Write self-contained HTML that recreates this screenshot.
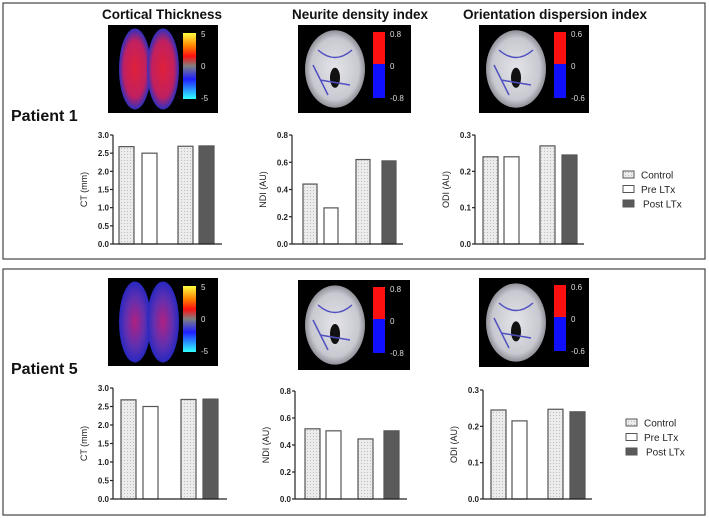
<!DOCTYPE html>
<html><head><meta charset="utf-8"><style>
body{margin:0;background:#fff;}
svg{display:block;font-family:"Liberation Sans",Arial,sans-serif;}
</style></head><body>
<svg id="fig" width="709" height="518" viewBox="0 0 709 518" xmlns="http://www.w3.org/2000/svg">
<defs>
<pattern id="dots" width="3" height="3" patternUnits="userSpaceOnUse"><rect width="3" height="3" fill="#ececec"/><rect x="1" y="1" width="1" height="1" fill="#bdbdbd"/></pattern>
<linearGradient id="ctbar" x1="0" y1="0" x2="0" y2="1"><stop offset="0" stop-color="#ffff40"/><stop offset="0.2" stop-color="#ff8000"/><stop offset="0.35" stop-color="#ff1010"/><stop offset="0.5" stop-color="#808080"/><stop offset="0.7" stop-color="#2020ff"/><stop offset="1" stop-color="#30ffff"/></linearGradient>
<radialGradient id="ctbrain1"><stop offset="0" stop-color="#e0203a"/><stop offset="0.7" stop-color="#c02060"/><stop offset="1" stop-color="#3030c0"/></radialGradient>
<radialGradient id="ctbrain2"><stop offset="0" stop-color="#b02080"/><stop offset="0.6" stop-color="#6030b0"/><stop offset="1" stop-color="#2828c0"/></radialGradient>
<radialGradient id="mri"><stop offset="0" stop-color="#e4e4ea"/><stop offset="0.8" stop-color="#c8c8d0"/><stop offset="1" stop-color="#909098"/></radialGradient>
</defs>
<rect x="3" y="3" width="702" height="256" fill="none" stroke="#444" stroke-width="1.2"/>
<rect x="3" y="269" width="702" height="246" fill="none" stroke="#444" stroke-width="1.2"/>
<text x="102" y="19" font-size="14" font-weight="bold" textLength="120" lengthAdjust="spacingAndGlyphs" fill="#111">Cortical Thickness</text>
<text x="292" y="19" font-size="14" font-weight="bold" textLength="136" lengthAdjust="spacingAndGlyphs" fill="#111">Neurite density index</text>
<text x="463" y="19" font-size="14" font-weight="bold" textLength="184" lengthAdjust="spacingAndGlyphs" fill="#111">Orientation dispersion index</text>
<text x="11" y="121" font-size="16" font-weight="bold" fill="#111">Patient 1</text>
<text x="11" y="374" font-size="16" font-weight="bold" fill="#111">Patient 5</text>
<g id="images"></g>
<g id="charts"></g>
</svg>
<script>
const NS="http://www.w3.org/2000/svg";
const categories=["Control","Pre LTx","Control","Post LTx"];
const ctP1=[2.68,2.5,2.69,2.7];
const ndiP1=[0.44,0.265,0.62,0.61];
const odiP1=[0.24,0.24,0.27,0.245];
const ctP5=[2.68,2.5,2.69,2.7];
const ndiP5=[0.52,0.505,0.445,0.505];
const odiP5=[0.245,0.215,0.247,0.24];
const ctTicks=["0.0","0.5","1.0","1.5","2.0","2.5","3.0"];
const ndiTicks=["0.0","0.2","0.4","0.6","0.8"];
const odiTicks=["0.0","0.1","0.2","0.3"];
const legendLabels=["Control","Pre LTx","Post LTx"];
const fills=["url(#dots)","#fff","url(#dots)","#5a5a5a"];
function el(t,a,p){const e=document.createElementNS(NS,t);for(const k in a)e.setAttribute(k,a[k]);p.appendChild(e);return e;}
const charts=document.getElementById('charts');
function chart(name,vals,ticks,ytitle,ax,top,bot,xend,barX,bw){
  const g=el('g',{},charts);
  
  
  const max=parseFloat(ticks[ticks.length-1]);
  const y=v=>bot-(v/max)*(bot-top);
  vals.forEach((v,i)=>{
    const r=el('rect',{x:barX[i],y:y(v),width:bw,height:bot-y(v),fill:fills[i],stroke:'#555','stroke-width':1.2},g);
    
    
  });
  el('line',{x1:ax,y1:top,x2:ax,y2:bot,stroke:'#222','stroke-width':1.2},g);
  el('line',{x1:ax,y1:bot,x2:xend,y2:bot,stroke:'#222','stroke-width':1.2},g);
  ticks.forEach(t=>{
    const yy=y(parseFloat(t));
    el('line',{x1:ax-3,y1:yy,x2:ax,y2:yy,stroke:'#222','stroke-width':1.2},g);
    const tx=el('text',{x:ax-4,y:yy+3,'font-size':8,'font-weight':'bold','text-anchor':'end',fill:'#222'},g);
    tx.textContent=t;
    
    
  });
  const cx=ax-26,cy=(top+bot)/2;
  const tt=el('text',{x:cx,y:cy,'font-size':9,'text-anchor':'middle',fill:'#222',transform:`rotate(-90 ${cx} ${cy})`},g);
  tt.textContent=ytitle;
  
  
}
chart('ct-chart-patient-1',ctP1,ctTicks,'CT (mm)',113,135,244,222,[119,142,178,199],15);
chart('ndi-chart-patient-1',ndiP1,ndiTicks,'NDI (AU)',292,135,244,403,[303,324,356,382],14);
chart('odi-chart-patient-1',odiP1,odiTicks,'ODI (AU)',475,135,244,584,[483,504,540,562],15);
chart('ct-chart-patient-5',ctP5,ctTicks,'CT (mm)',113,388,499,227,[121,143,181,203],15);
chart('ndi-chart-patient-5',ndiP5,ndiTicks,'NDI (AU)',295,391,499,407,[305,326,358,384],15);
chart('odi-chart-patient-5',odiP5,odiTicks,'ODI (AU)',483,390,499,592,[491,512,548,570],15);
function legend(name,x,y0){
  const g=el('g',{},charts);
  
  
  const lf=["url(#dots)","#fff","#5a5a5a"];
  legendLabels.forEach((l,i)=>{
    const yy=y0+i*14.5;
    el('rect',{x:x,y:yy-4,width:11,height:7,fill:lf[i],stroke:'#555','stroke-width':1},g);
    const t=el('text',{x:x+18+(i==2?2:0),y:yy+3.5,'font-size':10,fill:'#222'},g);
    t.textContent=l;
    
    
  });
}
legend('legend-patient-1',623,175);
legend('legend-patient-5',626,423);
const imgs=document.getElementById('images');
function ctImg(name,x,y,w,h,grad){
  const g=el('g',{},imgs);
  
  
  el('rect',{x:x,y:y,width:w,height:h,fill:'#000'},g);
  el('ellipse',{cx:x+w*0.245,cy:y+h*0.5,rx:w*0.145,ry:h*0.46,fill:`url(#${grad})`},g);
  el('ellipse',{cx:x+w*0.5,cy:y+h*0.5,rx:w*0.145,ry:h*0.46,fill:`url(#${grad})`},g);
  el('rect',{x:x+75,y:y+8,width:13,height:66,fill:'url(#ctbar)'},g);
  [['5',y+12],['0',y+44],['-5',y+76]].forEach(([s,yy])=>{const t=el('text',{x:x+93,y:yy,'font-size':8,fill:'#ddd'},g);t.textContent=s;});
}
function mriImg(name,x,y,w,h,hi,lo){
  const g=el('g',{},imgs);
  
  
  el('rect',{x:x,y:y,width:w,height:h,fill:'#000'},g);
  el('ellipse',{cx:x+37,cy:y+h*0.5,rx:30,ry:h*0.44,fill:'url(#mri)'},g);
  el('ellipse',{cx:x+37,cy:y+h*0.6,rx:5,ry:10,fill:'#111'},g);
  el('path',{d:`M${x+20} ${y+25} Q${x+37} ${y+40} ${x+54} ${y+25} M${x+22} ${y+55} L${x+52} ${y+60} M${x+15} ${y+40} L${x+30} ${y+70}`,stroke:'#5050c0','stroke-width':1.5,fill:'none'},g);
  el('rect',{x:x+75,y:y+7,width:12,height:32,fill:'#ff1010'},g);
  el('rect',{x:x+75,y:y+39,width:12,height:34,fill:'#1010ff'},g);
  [[hi,y+12],['0',y+44],[lo,y+76]].forEach(([s,yy])=>{const t=el('text',{x:x+92,y:yy,'font-size':8,fill:'#ddd'},g);t.textContent=s;});
}
ctImg('ct-brain-map-patient-1',108,25,110,88,'ctbrain1');
mriImg('ndi-brain-map-patient-1',298,25,113,88,'0.8','-0.8');
mriImg('odi-brain-map-patient-1',479,25,110,88,'0.6','-0.6');
ctImg('ct-brain-map-patient-5',108,278,110,88,'ctbrain2');
mriImg('ndi-brain-map-patient-5',298,280,112,90,'0.8','-0.8');
mriImg('odi-brain-map-patient-5',479,278,110,89,'0.6','-0.6');
</script>
</body></html>
